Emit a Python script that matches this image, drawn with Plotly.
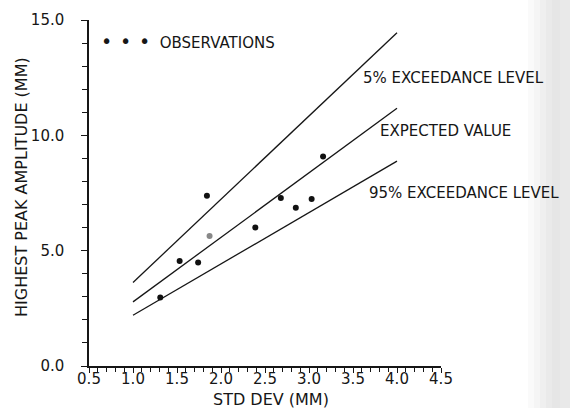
import plotly.graph_objects as go

# Observations
obs_x = [1.31, 1.53, 1.74, 1.87, 1.84, 2.39, 2.68, 2.85, 3.03, 3.16]
obs_y = [2.97, 4.55, 4.49, 5.64, 7.38, 6.00, 7.28, 6.86, 7.24, 9.08]
obs_color = ["#111", "#111", "#111", "#888", "#111", "#111", "#111", "#111", "#111", "#111"]

# Lines (std dev range)
line_x = [1.0, 4.0]
p5_y = [3.62, 14.45]
exp_y = [2.78, 11.17]
p95_y = [2.20, 8.88]

x_ticks = [0.5, 1.0, 1.5, 2.0, 2.5, 3.0, 3.5, 4.0, 4.5]
y_ticks = [0.0, 5.0, 10.0, 15.0]

FONT = "DejaVu Sans"
INK = "#161616"

fig = go.Figure()
for ys in (p5_y, exp_y, p95_y):
    fig.add_trace(go.Scatter(x=line_x, y=ys, mode="lines",
                             line=dict(color=INK, width=1.3), showlegend=False))
fig.add_trace(go.Scatter(x=obs_x, y=obs_y, mode="markers",
                         marker=dict(color=obs_color, size=6), showlegend=False))

# scan shading at right edge (soft gradient)
shade = [(528, 534, "#fafafa"), (534, 540, "#f5f5f5"), (540, 546, "#efefef"),
         (546, 552, "#eaeaea"), (552, 560, "#e6e6e6"), (560, 571, "#e9e9e9")]
for x0, x1, c in shade:
    fig.add_shape(type="rect", xref="paper", yref="paper",
                  x0=(x0 - 89) / 352, x1=(x1 - 89) / 352, y0=-0.2, y1=1.2,
                  fillcolor=c, line=dict(width=0), layer="below")

ann_font = dict(family=FONT, size=15, color=INK)
dot = "<span style='font-size:19px'>•</span>"
fig.add_annotation(x=0.61, y=14.08, xref="x", yref="y", xanchor="left", yanchor="middle",
                   text=dot + " \u2009" + dot + " \u2009" + dot + "  OBSERVATIONS",
                   showarrow=False, font=ann_font)
fig.add_annotation(x=3.59, y=12.5, xref="x", yref="y", xanchor="left", yanchor="middle",
                   text="5% EXCEEDANCE LEVEL", showarrow=False, font=ann_font)
fig.add_annotation(x=3.78, y=10.2, xref="x", yref="y", xanchor="left", yanchor="middle",
                   text="EXPECTED VALUE", showarrow=False, font=ann_font)
fig.add_annotation(x=3.66, y=7.51, xref="x", yref="y", xanchor="left", yanchor="middle",
                   text="95% EXCEEDANCE LEVEL", showarrow=False, font=ann_font)

# axis titles
fig.add_annotation(x=(271 - 89) / 352, y=(366 - 399) / 346, xref="paper", yref="paper",
                   xanchor="center", yanchor="middle", text="STD DEV (MM)",
                   showarrow=False, font=dict(family=FONT, size=16, color=INK))
fig.add_annotation(x=(22 - 89) / 352, y=(366 - 187) / 346, xref="paper", yref="paper",
                   xanchor="center", yanchor="middle", text="HIGHEST PEAK AMPLITUDE (MM)",
                   textangle=-90, showarrow=False, font=dict(family=FONT, size=16, color=INK))

fig.update_xaxes(range=[0.5, 4.5], tickvals=x_ticks, tickformat=".1f",
                 showline=True, linecolor=INK, linewidth=1.5, showgrid=False, zeroline=False,
                 ticks="outside", ticklen=5, tickwidth=1, tickcolor=INK, ticklabelstandoff=-7,
                 minor=dict(dtick=0.1, tick0=0.5, ticks="outside", ticklen=4, tickcolor=INK, showgrid=False),
                 tickfont=dict(family=FONT, size=15, color=INK))
fig.update_yaxes(range=[0, 15], tickvals=y_ticks, tickformat=".1f",
                 showline=True, linecolor=INK, linewidth=1.5, showgrid=False, zeroline=False,
                 ticks="outside", ticklen=6, tickwidth=1, tickcolor=INK, ticklabelstandoff=14,
                 minor=dict(dtick=1, tick0=0, ticks="outside", ticklen=5, tickcolor=INK, showgrid=False),
                 tickfont=dict(family=FONT, size=15, color=INK))

fig.update_layout(width=570, height=408, margin=dict(l=89, r=129, t=20, b=42),
                  paper_bgcolor="white", plot_bgcolor="white", showlegend=False)

fig.write_html("out.html")
